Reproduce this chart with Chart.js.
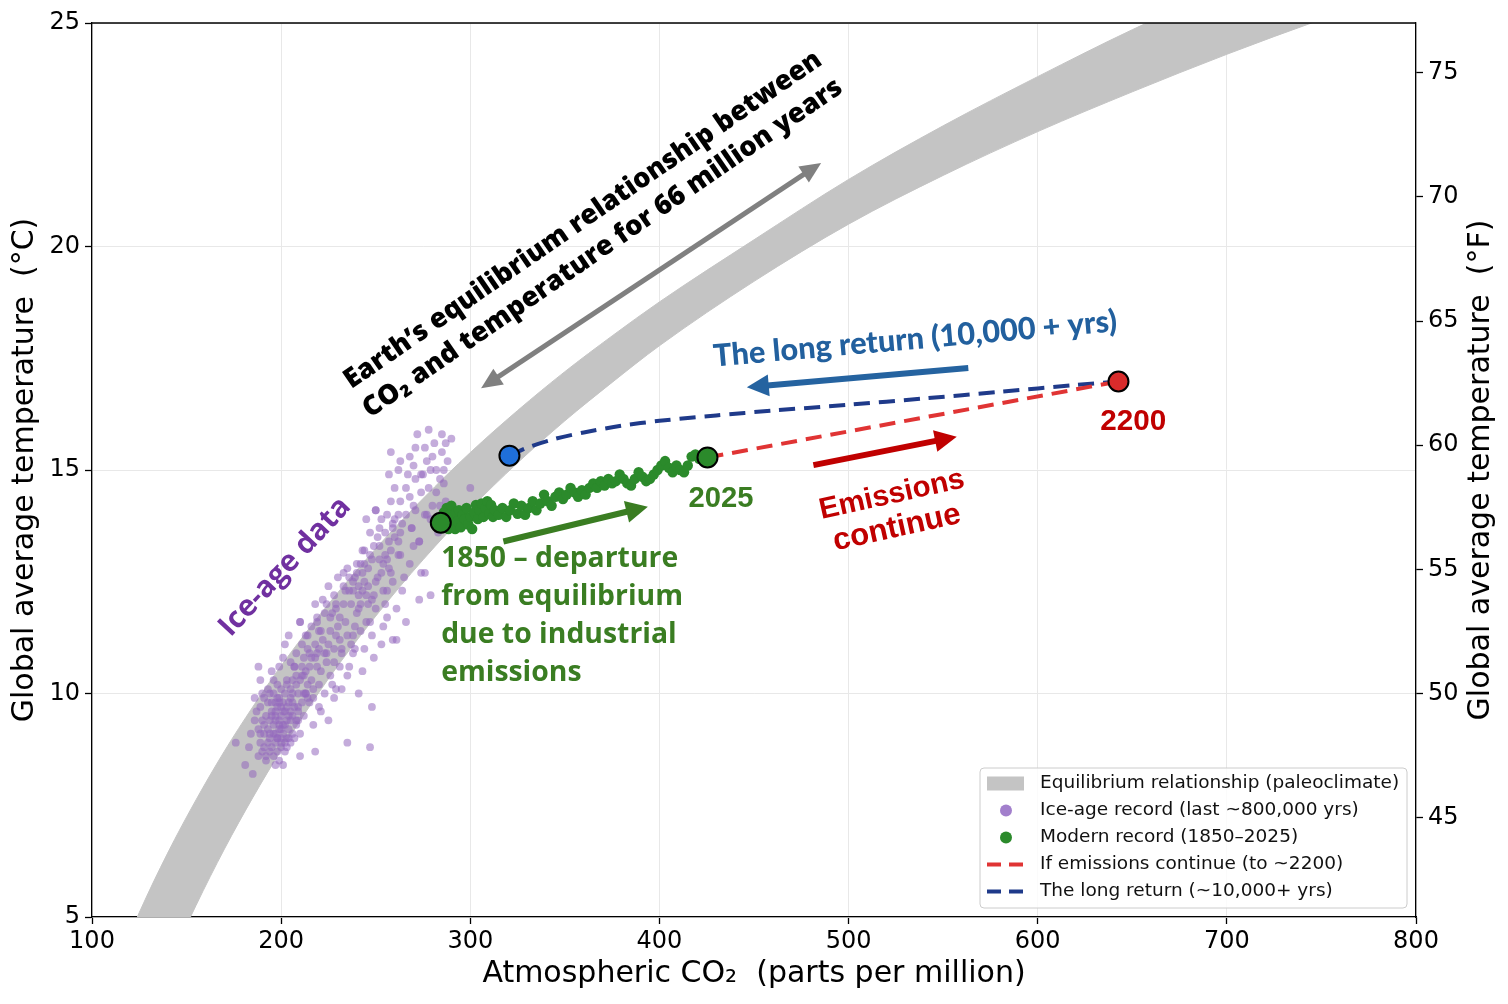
<!DOCTYPE html>
<html>
<head>
<meta charset="utf-8">
<script src="https://cdn.jsdelivr.net/npm/chart.js@4.4.1/dist/chart.umd.min.js"></script>
<style>
  html, body { margin: 0; padding: 0; background: #fff; }
  canvas { display: block; }
</style>
</head>
<body>
<canvas id="chart" width="1508" height="1004"></canvas>
<script>
// ---- data ----
// equilibrium band: CO2 (ppm) with upper/lower edge temperature (°C)
const bandCO2   = [110, 125, 140, 155, 170, 185, 200, 225, 250, 275, 300, 325, 350, 375, 400, 450, 500, 550, 600, 650, 700, 750, 800];
const bandUpper = [3.6, 5.1, 6.43, 7.62, 8.71, 9.7, 10.62, 12.0, 13.24, 14.36, 15.39, 16.33, 17.2, 18.0, 18.76, 20.15, 21.5, 22.7, 23.8, 24.85, 25.8, 26.7, 27.5];
const bandLower = [0.6, 2.33, 3.88, 5.26, 6.52, 7.67, 8.73, 10.33, 11.73, 12.99, 14.13, 15.16, 16.1, 16.96, 17.78, 19.22, 20.5, 21.59, 22.57, 23.46, 24.3, 25.08, 25.8];

// ice-age record (last ~800,000 yrs)
const iceCO2 = [
  196,201,193,205,199,208,190,203,197,211,
  194,200,206,188,202,198,209,192,204,196,
  199,203,191,207,195,201,212,197,189,205,
  200,194,208,198,203,192,206,200,196,210,
  187,202,199,205,193,197,208,201,195,204,
  198,191,206,200,203,194,209,197,202,199,
  185,181,176,188,189,201,210,218,184,186,
  212,216,220,214,224,219,226,210,229,222,
  217,231,225,215,233,221,228,236,213,230,
  218,234,223,227,238,211,232,240,219,235,
  226,241,216,229,237,224,243,214,231,239,
  221,228,235,241,248,235,247,243,212,217,
  202,210,219,228,233,207,199,225,232,238,
  244,249,240,252,246,255,248,258,243,251,
  260,254,247,262,250,257,245,263,253,259,
  248,256,261,266,259,261,273,279,276,274,
  264,268,242,250,258,263,269,273,252,244,
  249,239,255,265,270,246,256,262,241,254,
  272,278,285,258,285,277,288,267,282,278,
  263,250,274,300,259,269,273,280,284,271,
  276,281,266,287,270,279,283,262,286,275,
  195,198,204,190,207,193,200,211,196,203,
  189,206,199,202,194,209,197,213,191,205,
  215,222,218,226,230,214,237,223,220,234,
  244,248,253,239,257,246,251,242,255,260,
  192,197,203,208,186,200,205,194,210,198,
  199,204,191,196,207,201,189,213,202,195,
  216,221,225,212,229,233,219,227,236,214,
  231,238,224,242,220,235,228,245,217,240,
  247,252,256,243,259,249,262,254,245,258,
  264,268,271,260,266,274,257,270,263,277,
  238,244,250,232,247,253,236,241,256,229,
  208,213,206,218,211,223,209,215,204,220,
  198,193,188,201,195,183,205,190,197,200,
  280,284,276,290,282,271,287,279,268,286
];
const iceTemp = [
  9.1,9.6,8.9,9.9,9.3,10.2,8.7,9.0,9.8,10.4,
  9.4,8.8,9.5,9.2,10.0,9.0,9.7,9.5,9.2,8.6,
  9.9,10.3,9.1,9.0,9.6,9.3,10.0,8.9,8.9,9.6,
  9.2,9.0,10.4,9.7,9.4,8.5,9.8,10.1,9.3,9.1,
  9.6,8.7,9.4,10.1,9.8,9.1,9.3,9.8,8.8,9.0,
  10.2,9.3,9.1,9.5,9.7,10.0,9.6,9.4,8.9,9.2,
  8.2,8.4,8.9,10.6,10.3,8.4,8.6,8.7,9.1,9.9,
  10.8,10.3,11.0,11.3,10.7,11.6,11.4,11.6,11.9,12.1,
  10.1,11.2,12.4,10.9,12.0,10.5,11.0,12.3,10.0,12.6,
  11.1,11.6,11.8,10.2,12.5,11.1,10.9,11.8,10.6,12.8,
  10.4,12.2,11.5,11.3,11.1,12.0,12.7,9.9,10.6,11.5,
  9.6,9.9,10.4,10.0,9.7,8.9,8.8,10.5,9.5,9.3,
  11.1,11.6,11.7,12.2,12.7,10.6,10.6,9.4,10.1,10.9,
  12.9,13.3,12.9,13.0,12.4,13.6,12.1,13.2,13.2,12.6,
  13.9,12.3,13.6,13.1,11.9,12.8,11.6,13.6,13.9,12.5,
  11.3,11.7,11.2,11.6,11.2,11.9,12.1,12.2,12.7,12.7,
  12.3,12.9,11.4,14.1,14.3,13.1,13.7,13.4,13.3,13.2,
  10.8,11.0,12.0,12.6,13.3,12.0,14.0,13.4,12.4,11.5,
  15.8,15.9,15.8,15.4,15.4,15.2,15.2,14.9,15.0,14.6,
  14.3,14.1,14.5,14.6,13.7,13.7,13.4,14.2,14.8,14.1,
  15.5,15.6,14.6,14.3,15.1,13.9,13.6,15.0,15.0,14.9,
  9.5,8.7,9.5,9.4,9.7,9.2,9.0,9.8,10.0,8.8,
  9.7,10.3,9.8,9.3,8.7,10.0,9.5,10.5,9.9,9.4,
  10.6,11.2,10.8,11.7,11.5,10.2,12.0,10.9,11.4,12.3,
  12.5,13.0,12.7,12.6,13.4,12.8,13.5,12.0,13.1,13.5,
  8.6,9.6,10.2,9.4,9.4,9.7,8.9,9.1,10.3,9.9,
  8.5,9.8,8.8,10.3,10.6,9.1,9.1,10.0,9.6,9.8,
  10.8,11.4,11.1,10.4,12.0,12.4,10.9,11.8,12.6,11.0,
  11.7,12.3,10.9,12.9,10.2,11.3,10.7,12.2,9.9,12.7,
  13.1,13.7,13.0,12.3,13.8,12.2,14.0,12.9,13.9,12.7,
  13.8,14.4,14.8,14.6,14.0,14.9,14.9,14.2,15.2,14.0,
  11.3,11.0,12.5,11.0,11.6,11.1,10.6,11.9,12.3,10.1,
  10.9,11.3,10.0,12.0,10.6,10.0,9.4,9.8,11.3,9.7,
  9.0,10.1,8.6,10.8,10.5,8.8,10.7,10.0,8.4,8.9,
  15.3,14.2,14.0,15.7,14.5,15.5,15.6,15.0,15.3,14.7
];

// modern record 1850-2025
const modernCO2 = [
  284,285,285.5,286,286.5,287,287.5,288,288.5,289,
  289.5,290,290.5,291,292,292.5,293,294,295,296,
  297,298,299,300,301,302,303,304,305,306,
  307,308,309,310,311,312,313,315,317,319,
  321,323,325,327,329,331,333,335,337,339,
  341,343,345,347,349,351,353,355,357,359,
  361,363,365,367,369,371,373,375,377,379,
  381,383,385,387,389,391,393,395,397,399,
  401,403,405,407,409,411,413,415,417,419,
  421
];
const modernTemp = [
  13.82,13.95,13.7,14.05,13.85,13.72,14.15,13.9,13.68,14.0,
  13.8,14.2,13.72,13.95,13.68,14.05,13.85,14.1,13.72,14.0,
  13.9,14.15,13.78,13.95,13.68,14.05,14.22,13.9,14.1,14.25,
  13.95,14.15,14.3,14.02,14.22,13.95,14.1,14.0,14.15,13.95,
  14.1,14.25,14.02,14.2,14.0,14.15,14.3,14.1,14.25,14.45,
  14.3,14.2,14.4,14.5,14.35,14.45,14.6,14.5,14.4,14.55,
  14.45,14.6,14.7,14.6,14.75,14.65,14.8,14.7,14.75,14.9,
  14.8,14.7,14.65,14.8,14.95,14.85,14.75,14.8,14.9,15.0,
  15.1,15.2,15.05,14.95,15.1,15.0,14.95,15.1,15.3,15.35,
  15.25
];

// scenarios
const futureCO2  = [425.4, 642.7];
const futureTemp = [15.28, 16.98];
const returnCO2  = [320.7, 330, 345, 360, 380, 400, 430, 460, 500, 540, 580, 620, 642.7];
const returnTemp = [15.32, 15.5, 15.7, 15.84, 15.99, 16.1, 16.22, 16.33, 16.46, 16.6, 16.75, 16.9, 16.98];

// highlighted points: 1850, 2025, return, 2200
const keyCO2  = [284.4, 425.4, 320.7, 642.7];
const keyTemp = [13.82, 15.28, 15.32, 16.98];

const fTicks = [45, 50, 55, 60, 65, 70, 75];
const legendLabels = [
  'Equilibrium relationship (paleoclimate)',
  'Ice-age record (last ~800,000 yrs)',
  'Modern record (1850–2025)',
  'If emissions continue (to ~2200)',
  'The long return (~10,000+ yrs)'
];

const pts = (xs, ys) => xs.map((x, i) => ({x: x, y: ys[i]}));

const BAND = '#c4c4c4', PURPLE = 'rgba(148,103,189,0.55)', GREEN = '#2b8a2b';
const RED = '#e03434', NAVY = '#1f3a8a';

// ---- annotations (positions in data units) ----
const notes = [
  {text: 'Earth’s equilibrium relationship between', x: 359.6, y: 20.59, rot: -34.6, color: '#000', family: 'Open Sans', weight: 800, width: 574},
  {text: 'CO₂ and temperature for 66 million years', x: 370.0, y: 19.96, rot: -34.6, color: '#000', family: 'Open Sans', weight: 800, width: 576},
  {text: 'The long return (10,000 + yrs)', x: 535.2, y: 17.93, rot: -5, color: '#22609e', family: 'Lato', weight: 900, width: 405},
  {text: '2200', x: 650.5, y: 16.07, rot: 0, color: '#c00000', family: 'Liberation Sans', weight: 700, width: 66},
  {text: 'Emissions', x: 522.9, y: 14.44, rot: -12.5, color: '#c00000', family: 'Liberation Sans', weight: 700, width: 148},
  {text: 'continue', x: 525.5, y: 13.70, rot: -12.5, color: '#c00000', family: 'Liberation Sans', weight: 700, width: 130},
  {text: '2025', x: 432.5, y: 14.35, rot: 0, color: '#3a7d22', family: 'Liberation Sans', weight: 700, width: 65},
  {text: 'Ice-age data', x: 202.1, y: 12.83, rot: -47, color: '#7030a0', family: 'Open Sans', weight: 700, width: 178}
];
const greenLines = ['1850 – departure', 'from equilibrium', 'due to industrial', 'emissions'];
const arrows = [
  {from: [305.7, 16.83], to: [485.5, 21.87], color: '#808080', w: 5, head: 21, headW: 19, both: true},
  {from: [563.3, 17.28], to: [446.2, 16.85], color: '#2563a0', w: 6, head: 22, headW: 22},
  {from: [481.4, 15.11], to: [557.2, 15.745], color: '#c00000', w: 6, head: 22, headW: 22},
  {from: [317.5, 13.40], to: [393.9, 14.18], color: '#3a7d22', w: 6, head: 22, headW: 22}
];

function headAt(ctx, x1, y1, x2, y2, len, hw) {
  const a = Math.atan2(y2 - y1, x2 - x1);
  ctx.beginPath();
  ctx.moveTo(x2, y2);
  ctx.lineTo(x2 - len * Math.cos(a) + hw / 2 * Math.sin(a), y2 - len * Math.sin(a) - hw / 2 * Math.cos(a));
  ctx.lineTo(x2 - len * Math.cos(a) - hw / 2 * Math.sin(a), y2 - len * Math.sin(a) + hw / 2 * Math.cos(a));
  ctx.closePath();
  ctx.fill();
}

function drawArrow(ctx, x1, y1, x2, y2, a) {
  const ang = Math.atan2(y2 - y1, x2 - x1);
  const dx = Math.cos(ang) * a.head * 0.8, dy = Math.sin(ang) * a.head * 0.8;
  ctx.save();
  ctx.strokeStyle = a.color; ctx.fillStyle = a.color; ctx.lineWidth = a.w;
  ctx.beginPath();
  ctx.moveTo(a.both ? x1 + dx : x1, a.both ? y1 + dy : y1);
  ctx.lineTo(x2 - dx, y2 - dy);
  ctx.stroke();
  headAt(ctx, x1, y1, x2, y2, a.head, a.headW);
  if (a.both) headAt(ctx, x2, y2, x1, y1, a.head, a.headW);
  ctx.restore();
}

function fitSize(ctx, text, weight, family, width) {
  ctx.font = weight + ' 100px "' + family + '"';
  return 100 * width / ctx.measureText(text).width;
}

const annotate = {
  id: 'annotate',
  afterDatasetsDraw(chart) {
    const {ctx, scales: {x, y}} = chart;
    arrows.forEach(a => drawArrow(ctx,
      x.getPixelForValue(a.from[0]), y.getPixelForValue(a.from[1]),
      x.getPixelForValue(a.to[0]), y.getPixelForValue(a.to[1]), a));

    notes.forEach(n => {
      const size = fitSize(ctx, n.text, n.weight, n.family, n.width);
      ctx.save();
      ctx.translate(x.getPixelForValue(n.x), y.getPixelForValue(n.y));
      ctx.rotate(n.rot * Math.PI / 180);
      ctx.font = n.weight + ' ' + size + 'px "' + n.family + '"';
      ctx.fillStyle = n.color;
      ctx.textAlign = 'center';
      ctx.textBaseline = 'middle';
      ctx.fillText(n.text, 0, 0);
      ctx.restore();
    });

    // green multi-line note, left aligned
    const gs = fitSize(ctx, greenLines[1], 700, 'Open Sans', 242);
    ctx.save();
    ctx.font = '700 ' + gs + 'px "Open Sans"';
    ctx.fillStyle = '#3a7d22';
    ctx.textAlign = 'left';
    ctx.textBaseline = 'middle';
    const gx = x.getPixelForValue(284.6), gy = y.getPixelForValue(13.01);
    greenLines.forEach((t, i) => ctx.fillText(t, gx, gy + i * 38));
    ctx.restore();
  },
  afterDraw(chart) {
    const {ctx, chartArea: ca} = chart;
    ctx.save();
    // top frame line
    ctx.strokeStyle = '#000'; ctx.lineWidth = 1.3;
    ctx.beginPath(); ctx.moveTo(ca.left, ca.top); ctx.lineTo(ca.right, ca.top); ctx.stroke();

    // right axis title, reading bottom to top like the left one
    ctx.save();
    ctx.translate(chart.width - 27, (ca.top + ca.bottom) / 2);
    ctx.rotate(-Math.PI / 2);
    ctx.font = '30px "DejaVu Sans"';
    ctx.fillStyle = '#000';
    ctx.textAlign = 'center';
    ctx.textBaseline = 'middle';
    ctx.fillText('Global average temperature  (°F)', 0, 0);
    ctx.restore();

    // legend box, lower right
    const w = 427, h = 140;
    const bx = ca.right - 9 - w, by = ca.bottom - 9 - h;
    ctx.beginPath();
    ctx.roundRect(bx, by, w, h, 4);
    ctx.fillStyle = 'rgba(255,255,255,0.8)';
    ctx.fill();
    ctx.strokeStyle = '#cccccc'; ctx.lineWidth = 1;
    ctx.stroke();

    ctx.font = '18.5px "DejaVu Sans"';
    ctx.textBaseline = 'middle';
    ctx.textAlign = 'left';
    legendLabels.forEach((lab, i) => {
      const ry = by + 15.5 + i * 27;
      const hx = bx + 7;
      if (i === 0) {
        ctx.fillStyle = BAND; ctx.fillRect(hx, ry - 7, 37, 14);
      } else if (i === 1 || i === 2) {
        ctx.fillStyle = i === 1 ? '#a27fcc' : GREEN;
        ctx.beginPath(); ctx.arc(hx + 19, ry, 6, 0, Math.PI * 2); ctx.fill();
      } else {
        ctx.strokeStyle = i === 3 ? RED : NAVY; ctx.lineWidth = 4;
        ctx.setLineDash([14, 8]);
        ctx.beginPath(); ctx.moveTo(hx, ry); ctx.lineTo(hx + 37, ry); ctx.stroke();
        ctx.setLineDash([]);
      }
      ctx.fillStyle = '#111';
      ctx.fillText(lab, bx + 60, ry);
    });
    ctx.restore();
  }
};

const tickFont = {family: 'DejaVu Sans', size: 24};
const titleFont = {family: 'DejaVu Sans', size: 30};
const gridOpts = {color: '#e8e8e8', lineWidth: 1, tickColor: '#000', tickLength: 7, tickWidth: 1.3};

new Chart(document.getElementById('chart'), {
  type: 'scatter',
  data: {
    datasets: [
      {type: 'line', label: 'band top', data: pts(bandCO2, bandUpper), borderColor: BAND, borderWidth: 1,
       pointRadius: 0, fill: false, cubicInterpolationMode: 'monotone', order: 20},
      {type: 'line', label: legendLabels[0], data: pts(bandCO2, bandLower), borderColor: BAND, borderWidth: 1,
       backgroundColor: BAND, pointRadius: 0, fill: '-1', cubicInterpolationMode: 'monotone', order: 20},
      {label: legendLabels[1], data: pts(iceCO2, iceTemp), backgroundColor: PURPLE, borderWidth: 0,
       pointRadius: 3.9, order: 15},
      {label: legendLabels[2], data: pts(modernCO2, modernTemp), backgroundColor: GREEN, borderWidth: 0,
       pointRadius: 5.2, order: 12},
      {type: 'line', label: legendLabels[4], data: pts(returnCO2, returnTemp), borderColor: NAVY, borderWidth: 4,
       borderDash: [16, 9], pointRadius: 0, fill: false, tension: 0.3, order: 8},
      {type: 'line', label: legendLabels[3], data: pts(futureCO2, futureTemp), borderColor: RED, borderWidth: 4,
       borderDash: [16, 9], pointRadius: 0, fill: false, order: 7},
      {label: 'key points', data: pts(keyCO2, keyTemp), pointRadius: 10, borderWidth: 2, borderColor: '#000',
       backgroundColor: [GREEN, GREEN, '#1f6fd9', '#d92b2b'], order: 1}
    ]
  },
  options: {
    responsive: false,
    animation: false,
    devicePixelRatio: 1,
    layout: {padding: {top: 23, left: 0, right: 0, bottom: 0}},
    plugins: {legend: {display: false}, tooltip: {enabled: false}},
    scales: {
      x: {
        type: 'linear', min: 100, max: 800,
        ticks: {stepSize: 100, font: tickFont, color: '#000', padding: 3, maxRotation: 0},
        grid: gridOpts,
        border: {color: '#000', width: 1.3},
        title: {display: true, text: 'Atmospheric CO₂  (parts per million)', font: titleFont, color: '#000', padding: {top: 0, bottom: 12}},
        afterFit: s => { s.height = 87; }
      },
      y: {
        position: 'left', min: 5, max: 25,
        ticks: {stepSize: 5, font: tickFont, color: '#000', padding: 5},
        grid: gridOpts,
        border: {color: '#000', width: 1.3},
        title: {display: true, text: 'Global average temperature  (°C)', font: titleFont, color: '#000', padding: {top: 7, bottom: 0}},
        afterFit: s => { s.width = 92; }
      },
      yF: {
        position: 'right', min: 41, max: 77,
        afterBuildTicks: s => { s.ticks = fTicks.map(v => ({value: v})); },
        ticks: {font: tickFont, color: '#000', padding: 5},
        grid: {drawOnChartArea: false, tickColor: '#000', tickLength: 7, tickWidth: 1.3},
        border: {color: '#000', width: 1.3},
        afterFit: s => { s.width = 92; }
      }
    }
  },
  plugins: [annotate]
});
</script>
</body>
</html>
